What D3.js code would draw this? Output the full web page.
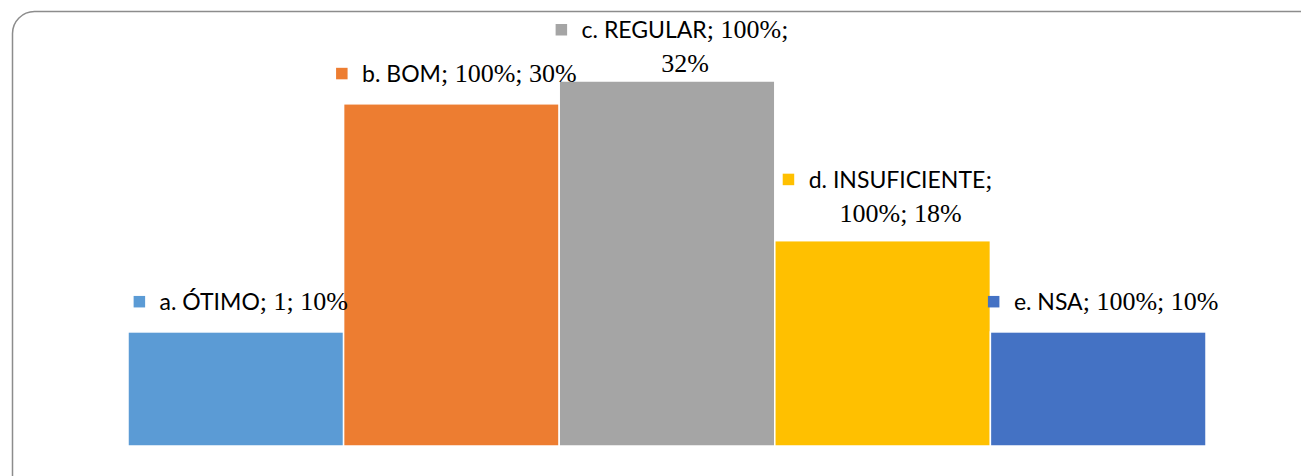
<!DOCTYPE html>
<html>
<head>
<meta charset="utf-8">
<script src="https://cdn.jsdelivr.net/npm/d3@7"></script>
<style>
  html, body { margin: 0; padding: 0; background: #fff; }
  svg { display: block; }
</style>
</head>
<body>
<svg id="chart"></svg>
<script>
// dados
const categories = ["a. ÓTIMO", "b. BOM", "c. REGULAR", "d. INSUFICIENTE", "e. NSA"];
const seriesLabels = ["1", "100%", "100%", "100%", "100%"];
const shares = [0.10, 0.30, 0.32, 0.18, 0.10];
const colors = ["#5B9BD5", "#ED7D31", "#A5A5A5", "#FFC000", "#4472C4"];

const width = 1301;
const height = 476;
const sans = { f: "Lato, 'Open Sans', sans-serif", s: 23 };
const serif = { f: "'Liberation Serif', 'DejaVu Serif', serif", s: 26 };

const svg = d3.select("#chart")
    .attr("width", width)
    .attr("height", height);

// moldura arredondada
svg.append("rect")
    .attr("x", 12.5)
    .attr("y", 11.5)
    .attr("width", width + 40)
    .attr("height", height + 40)
    .attr("rx", 22)
    .attr("fill", "none")
    .attr("stroke", "#8c8c8c")
    .attr("stroke-width", 1.5);

const x = d3.scaleBand()
    .domain(categories)
    .range([128, 1206])
    .padding(0);

const y = d3.scaleLinear()
    .domain([0, 0.32])
    .range([446, 81]);

const data = categories.map((c, i) => ({
    cat: c, label: seriesLabels[i], value: shares[i], color: colors[i]
}));

// barras
svg.append("g")
    .selectAll("rect")
    .data(data)
    .enter().append("rect")
    .attr("x", d => x(d.cat))
    .attr("y", d => y(d.value))
    .attr("width", x.bandwidth())
    .attr("height", d => y(0) - y(d.value))
    .attr("fill", d => d.color)
    .attr("stroke", "#fff")
    .attr("stroke-width", 1.5);

function addSegs(t, segs) {
    segs.forEach(s => t.append("tspan")
        .attr("font-family", s.font.f)
        .attr("font-size", s.font.s)
        .text(s.t));
}

// medir texto
const measure = svg.append("text").attr("visibility", "hidden");
function textWidth(segs) {
    measure.selectAll("tspan").remove();
    addSegs(measure, segs);
    return measure.node().getComputedTextLength();
}

// quebra de linha dos rótulos
const maxLine = 232;
function wrapLabel(d) {
    const pct = Math.round(d.value * 100) + "%";
    const words = [
        { t: d.cat, font: sans, sep: "" },
        { t: ";", font: serif, sep: "" },
        { t: d.label + ";", font: serif, sep: " " },
        { t: pct, font: serif, sep: " " }
    ];
    const lines = [];
    let cur = [];
    words.forEach(w => {
        const trial = cur.concat([{ t: (cur.length ? w.sep : "") + w.t, font: w.font }]);
        if (cur.length && textWidth(trial) > maxLine) {
            lines.push(cur);
            cur = [{ t: w.t, font: w.font }];
        } else {
            cur = trial;
        }
    });
    lines.push(cur);
    return lines;
}

const lineGap = 34;
const labelDy = [22, 22, 9, 19, 22];

const labels = svg.append("g").selectAll("g")
    .data(data)
    .enter().append("g");

labels.each(function(d, i) {
    const g = d3.select(this);
    const lines = wrapLabel(d);
    const cx = x(d.cat) + x.bandwidth() / 2 + 18;
    const lastBase = y(d.value) - labelDy[i];
    const firstBase = lastBase - (lines.length - 1) * lineGap;

    lines.forEach((segs, li) => {
        const t = g.append("text")
            .attr("x", cx)
            .attr("y", firstBase + li * lineGap)
            .attr("text-anchor", "middle")
            .attr("fill", "#000");
        addSegs(t, segs);
        if (li === 0) {
            const w = textWidth(segs);
            g.append("rect")
                .attr("x", cx - w / 2 - 26)
                .attr("y", firstBase - 14)
                .attr("width", 11.5)
                .attr("height", 11.5)
                .attr("fill", d.color);
        }
    });
});

measure.remove();
</script>
</body>
</html>
